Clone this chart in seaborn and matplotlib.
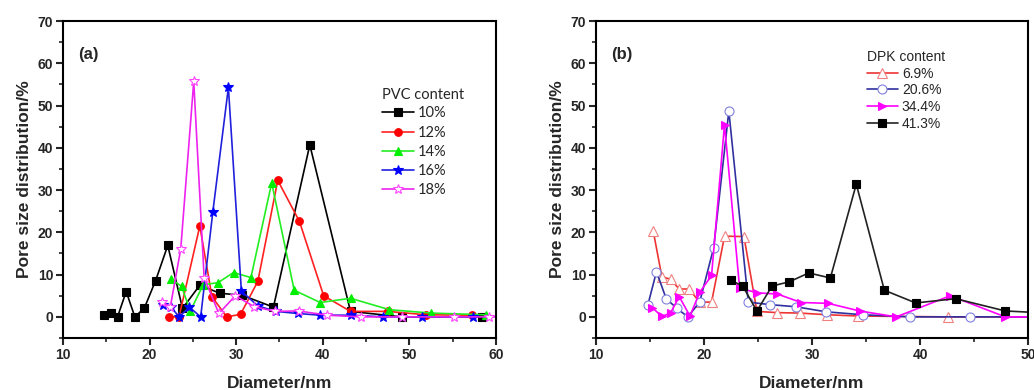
import matplotlib
matplotlib.use("Agg")
import matplotlib.pyplot as plt
import seaborn as sns
import numpy as np
from matplotlib.ticker import MultipleLocator

sns.set_theme(style="white")
plt.rcParams['font.family'] = ['Liberation Sans', 'DejaVu Sans']

# ---- Panel (a): PVC content ----
pvc10_x = [14.7, 15.5, 16.3, 17.3, 18.3, 19.4, 20.7, 22.1, 23.8, 25.8, 28.1, 30.7, 34.3, 38.5, 43.2, 49.1, 58.4]
pvc10_y = [0.4, 0.9, 0.0, 6.0, 0.0, 2.1, 8.6, 16.9, 2.0, 7.5, 5.6, 5.1, 2.3, 40.7, 1.3, 0.0, 0.0]
pvc12_x = [22.3, 23.4, 25.8, 27.2, 28.9, 30.5, 32.5, 34.8, 37.3, 40.1, 43.2, 47.5, 51.9, 57.2]
pvc12_y = [0.0, 0.0, 21.5, 4.8, 0.0, 0.6, 8.4, 32.3, 22.6, 5.0, 1.3, 1.3, 0.5, 0.4]
pvc14_x = [22.5, 23.7, 24.7, 26.2, 27.9, 29.7, 31.7, 34.1, 36.7, 39.7, 43.2, 47.7, 52.5, 58.8]
pvc14_y = [9.0, 7.2, 1.4, 7.6, 8.1, 10.5, 9.3, 31.7, 6.3, 3.4, 4.4, 1.7, 0.9, 0.5]
pvc16_x = [21.5, 22.5, 23.4, 24.6, 25.9, 27.3, 29.1, 30.6, 32.5, 34.6, 37.1, 39.7, 43.2, 47.0, 51.5, 57.3]
pvc16_y = [2.8, 2.3, 0.0, 2.3, 0.0, 24.8, 54.3, 6.1, 2.6, 1.3, 0.8, 0.4, 0.4, 0.0, 0.0, 0.0]
pvc18_x = [21.4, 22.4, 23.6, 25.1, 26.3, 28.0, 29.9, 32.1, 34.5, 37.2, 40.5, 44.4, 49.2, 55.1, 59.2, 61.0]
pvc18_y = [3.6, 2.4, 16.1, 55.7, 9.3, 0.8, 5.0, 2.4, 1.3, 1.4, 0.4, 0.0, 0.0, 0.0, 0.0, 0.0]

# ---- Panel (b): DPK content ----
dpk69_x = [15.3, 16.1, 16.9, 17.7, 18.6, 19.6, 20.7, 21.9, 23.7, 24.9, 26.8, 28.9, 31.4, 34.3, 42.6, 51.0]
dpk69_y = [20.3, 9.5, 8.9, 6.6, 6.6, 3.5, 3.5, 19.1, 19.0, 1.3, 1.0, 0.9, 0.5, 0.2, 0.0, 0.0]
dpk206_x = [14.8, 15.6, 16.5, 17.5, 18.5, 19.6, 20.9, 22.3, 24.1, 26.1, 28.5, 31.3, 34.7, 39.1, 44.6, 51.0]
dpk206_y = [2.8, 10.7, 4.3, 2.0, 0.0, 3.5, 16.4, 48.7, 3.5, 2.9, 2.4, 1.2, 0.5, 0.0, 0.0, 0.0]
dpk344_x = [15.2, 16.1, 16.9, 17.7, 18.7, 19.6, 20.7, 21.9, 23.3, 24.9, 26.8, 29.0, 31.5, 34.4, 37.8, 42.8, 47.9, 51.0]
dpk344_y = [2.2, 0.1, 0.9, 4.8, 0.2, 5.8, 9.8, 45.5, 6.8, 5.7, 5.4, 3.4, 3.2, 1.4, 0.0, 5.0, 0.0, 0.0]
dpk413_x = [22.5, 23.6, 24.9, 26.3, 27.9, 29.7, 31.7, 34.1, 36.7, 39.6, 43.3, 47.9, 51.0]
dpk413_y = [8.7, 7.2, 1.4, 7.3, 8.3, 10.4, 9.2, 31.4, 6.3, 3.3, 4.3, 1.4, 1.0]

fig = plt.figure(figsize=(10.34, 3.90), dpi=100)
axa = fig.add_axes([0.0609, 0.1333, 0.4188, 0.8128])
axb = fig.add_axes([0.5764, 0.1333, 0.4178, 0.8128])

ms = 5.5
series_a = [
    (pvc10_x, pvc10_y, '10%', 'black', 's', 'black', 'black'),
    (pvc12_x, pvc12_y, '12%', '#ff2020', 'o', '#ff0000', '#ff0000'),
    (pvc14_x, pvc14_y, '14%', '#22ee22', '^', '#00ee00', '#00ee00'),
    (pvc16_x, pvc16_y, '16%', '#2020dd', '*', '#0000ff', '#0000ff'),
    (pvc18_x, pvc18_y, '18%', '#ee22ee', '*', 'white', '#ff44ff'),
]
for x, y, lab, c, m, mfc, mec in series_a:
    sns.lineplot(x=x, y=y, ax=axa, sort=False, estimator=None, color=c, lw=1.2,
                 marker=m, markersize=ms + (1.5 if m == '*' else 0), markerfacecolor=mfc,
                 markeredgecolor=mec, markeredgewidth=0.8, label=lab, clip_on=True)

series_b = [
    (dpk69_x, dpk69_y, '6.9%', '#ee3333', '^', 'white', '#f08080'),
    (dpk206_x, dpk206_y, '20.6%', '#3030a0', 'o', 'white', '#8080e0'),
    (dpk344_x, dpk344_y, '34.4%', '#ff00ff', '>', '#ff00ff', '#ff00ff'),
    (dpk413_x, dpk413_y, '41.3%', '#222222', 's', 'black', 'black'),
]
for x, y, lab, c, m, mfc, mec in series_b:
    sns.lineplot(x=x, y=y, ax=axb, sort=False, estimator=None, color=c, lw=1.2,
                 marker=m, markersize=ms + (1 if m in ('o', '^') else 0), markerfacecolor=mfc,
                 markeredgecolor=mec, markeredgewidth=0.8, label=lab, clip_on=True)

for ax, xmax, tag in [(axa, 60, '(a)'), (axb, 50, '(b)')]:
    ax.set_xlim(10, xmax)
    ax.set_ylim(-5, 70)
    ax.xaxis.set_major_locator(MultipleLocator(10))
    ax.xaxis.set_minor_locator(MultipleLocator(5))
    ax.yaxis.set_major_locator(MultipleLocator(10))
    ax.yaxis.set_minor_locator(MultipleLocator(5))
    ax.set_yticks([0, 10, 20, 30, 40, 50, 60, 70])
    ax.tick_params(which='major', direction='out', length=5, width=1.5, labelsize=10,
                   bottom=True, left=True, top=False, right=False, pad=2)
    ax.tick_params(which='minor', direction='out', length=3, width=1.2,
                   bottom=True, left=True, top=False, right=False)
    for lbl in ax.get_xticklabels() + ax.get_yticklabels():
        lbl.set_fontweight('bold')
    for s in ax.spines.values():
        s.set_linewidth(1.5)
        s.set_color('black')
    ax.set_xlabel('Diameter/nm', fontsize=12.5, fontweight='bold', labelpad=10)
    ax.set_ylabel('Pore size distribution/%', fontsize=12.5, fontweight='bold', labelpad=4)
    ax.text(0.035, 0.895, tag, transform=ax.transAxes, fontsize=12, fontweight='bold',
            ha='left', va='center')

lega = axa.legend(title='PVC content', loc='upper left', bbox_to_anchor=(0.712, 0.82),
                  frameon=False, fontsize=10.5, title_fontsize=10.5, handlelength=2.2,
                  handletextpad=0.3, labelspacing=0.36, borderpad=0.2)
lega._legend_box.align = 'left'
lega._legend_box.sep = 3
for t in lega.get_texts() + [lega.get_title()]:
    t.set_fontfamily('Lato')

legb = axb.legend(title='DPK content', loc='upper left', bbox_to_anchor=(0.605, 0.94),
                  frameon=False, fontsize=10, title_fontsize=10, handlelength=2.2,
                  handletextpad=0.3, labelspacing=0.2, borderpad=0.2)
legb._legend_box.align = 'left'

fig.savefig('out.png', dpi=100)
